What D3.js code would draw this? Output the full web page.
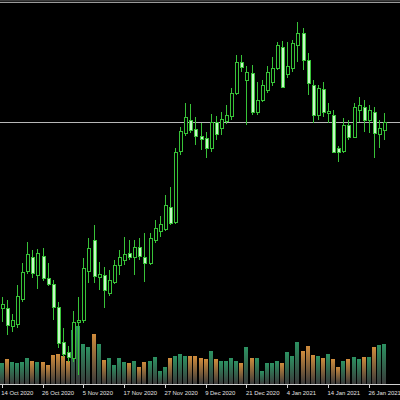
<!DOCTYPE html>
<html lang="en">
<head>
<meta charset="utf-8">
<script src="https://d3js.org/d3.v7.min.js"></script>
<style>
  body { margin: 0; background: #000; }
  svg { display: block; background: #000; }
  .tick-label { font: 5.9px "Liberation Sans", Arial, sans-serif; fill: #e0e0e0; }
</style>
</head>
<body>
<svg width="400" height="400"></svg>
<script>
// EURUSD daily bars, 14 Oct 2020 .. 29 Jan 2021
var dates = [
  "2020-10-14","2020-10-15","2020-10-16","2020-10-19","2020-10-20","2020-10-21","2020-10-22","2020-10-23",
  "2020-10-26","2020-10-27","2020-10-28","2020-10-29","2020-10-30","2020-11-02","2020-11-03","2020-11-04",
  "2020-11-05","2020-11-06","2020-11-09","2020-11-10","2020-11-11","2020-11-12","2020-11-13","2020-11-16",
  "2020-11-17","2020-11-18","2020-11-19","2020-11-20","2020-11-23","2020-11-24","2020-11-25","2020-11-26",
  "2020-11-27","2020-11-30","2020-12-01","2020-12-02","2020-12-03","2020-12-04","2020-12-07","2020-12-08",
  "2020-12-09","2020-12-10","2020-12-11","2020-12-14","2020-12-15","2020-12-16","2020-12-17","2020-12-18",
  "2020-12-21","2020-12-22","2020-12-23","2020-12-24","2020-12-28","2020-12-29","2020-12-30","2020-12-31",
  "2021-01-04","2021-01-05","2021-01-06","2021-01-07","2021-01-08","2021-01-11","2021-01-12","2021-01-13",
  "2021-01-14","2021-01-15","2021-01-18","2021-01-19","2021-01-20","2021-01-21","2021-01-22","2021-01-25",
  "2021-01-26","2021-01-27","2021-01-28","2021-01-29"
];

var open = [
  1.1764,1.1764,1.1728,1.1732,1.1782,1.1838,1.1866,1.1830,1.1868,1.1824,
  1.1812,1.1766,1.1696,1.1676,1.1664,1.1736,1.1740,1.1838,1.1900,1.1826,
  1.1830,1.1794,1.1816,1.1850,1.1860,1.1874,1.1866,1.1886,1.1866,1.1854,
  1.1900,1.1918,1.1922,1.1966,1.1936,1.2078,1.2114,1.2140,1.2122,1.2108,
  1.2104,1.2084,1.2136,1.2124,1.2138,1.2148,1.2194,1.2256,1.2220,1.2234,
  1.2156,1.2180,1.2200,1.2216,1.2244,1.2286,1.2232,1.2244,1.2290,1.2314,
  1.2260,1.2210,1.2150,1.2202,1.2154,1.2150,1.2084,1.2078,1.2130,1.2106,
  1.2160,1.2166,1.2140,1.2156,1.2112,1.2120
];
var high = [
  1.1786,1.1780,1.1752,1.1810,1.1854,1.1896,1.1880,1.1882,1.1884,1.1854,
  1.1820,1.1776,1.1724,1.1688,1.1758,1.1786,1.1864,1.1904,1.1930,1.1856,
  1.1846,1.1840,1.1860,1.1880,1.1906,1.1900,1.1900,1.1904,1.1914,1.1914,
  1.1940,1.1948,1.1990,1.2006,1.2084,1.2126,1.2174,1.2172,1.2146,1.2134,
  1.2116,1.2152,1.2148,1.2156,1.2170,1.2204,1.2270,1.2270,1.2248,1.2250,
  1.2216,1.2220,1.2248,1.2266,1.2296,1.2298,1.2296,1.2300,1.2336,1.2324,
  1.2274,1.2220,1.2210,1.2216,1.2174,1.2160,1.2088,1.2144,1.2140,1.2174,
  1.2186,1.2180,1.2170,1.2166,1.2140,1.2154
];
var low = [
  1.1736,1.1710,1.1716,1.1724,1.1776,1.1832,1.1824,1.1802,1.1818,1.1808,
  1.1740,1.1684,1.1666,1.1656,1.1656,1.1630,1.1734,1.1814,1.1814,1.1800,
  1.1764,1.1788,1.1812,1.1830,1.1850,1.1860,1.1830,1.1860,1.1816,1.1850,
  1.1894,1.1906,1.1918,1.1930,1.1932,1.2070,1.2108,1.2114,1.2090,1.2080,
  1.2064,1.2076,1.2100,1.2110,1.2132,1.2140,1.2190,1.2236,1.2130,1.2150,
  1.2150,1.2176,1.2194,1.2208,1.2240,1.2204,1.2224,1.2236,1.2256,1.2240,
  1.2190,1.2134,1.2140,1.2146,1.2134,1.2074,1.2056,1.2074,1.2100,1.2104,
  1.2136,1.2116,1.2114,1.2064,1.2084,1.2100
];
var close = [
  1.1772,1.1730,1.1740,1.1788,1.1836,1.1872,1.1834,1.1874,1.1824,1.1812,
  1.1766,1.1694,1.1672,1.1666,1.1736,1.1740,1.1844,1.1884,1.1828,1.1832,
  1.1800,1.1820,1.1850,1.1866,1.1872,1.1866,1.1886,1.1868,1.1854,1.1904,
  1.1924,1.1932,1.1970,1.1934,1.2076,1.2118,1.2146,1.2120,1.2108,1.2102,
  1.2084,1.2136,1.2112,1.2142,1.2150,1.2194,1.2256,1.2246,1.2236,1.2156,
  1.2180,1.2210,1.2236,1.2244,1.2290,1.2206,1.2248,1.2294,1.2314,1.2260,
  1.2214,1.2150,1.2204,1.2156,1.2158,1.2076,1.2076,1.2130,1.2106,1.2166,
  1.2170,1.2140,1.2160,1.2114,1.2124,1.2136
];
// tick volume, thousands
var volume = [
  85,99,88,85,87,105,92,88,88,76,
  116,120,112,93,216,232,160,149,200,160,
  96,104,76,104,88,85,92,69,89,92,
  109,53,69,103,112,119,112,112,112,103,
  99,132,99,91,91,103,93,83,147,105,
  105,52,83,83,92,85,127,113,169,132,
  152,116,112,105,119,100,69,92,99,109,
  99,109,109,149,156,160
];
var labelEvery = 8;

var svg = d3.select("svg");
var W = 400, H = 400, axisY = 384.5;

var x = d3.scalePoint().domain(dates).range([1.7, 384.2]);
var y = d3.scaleLinear().domain([1.1580, 1.2380]).range([400, 0]);
var yVol = d3.scaleLinear().domain([0, 200]).range([384, 334]);

var parse = d3.timeParse("%Y-%m-%d");
var fmt = d3.timeFormat("%-d %b %Y");

var bars = dates.map(function(d, i) {
  return { date: d, o: open[i], h: high[i], l: low[i], c: close[i], v: volume[i], up: close[i] >= open[i] };
});

var defs = svg.append("defs");
[["volUp", "#2c9262"], ["volDown", "#d08c3c"]].forEach(function(g) {
  var lg = defs.append("linearGradient").attr("id", g[0])
    .attr("x1", 0).attr("y1", 0).attr("x2", 0).attr("y2", 1);
  lg.append("stop").attr("offset", "0%").attr("stop-color", g[1]);
  lg.append("stop").attr("offset", "100%").attr("stop-color", "#3a3a3a");
});

// frame line at top
svg.append("rect").attr("x", 0).attr("y", 0).attr("width", W).attr("height", 1.5).attr("fill", "#3e3e3e");
svg.append("line").attr("x1", 0).attr("x2", W).attr("y1", 2.5).attr("y2", 2.5)
  .attr("stroke", "#9a9a9a").attr("stroke-width", 1);

// volumes
svg.append("g").attr("shape-rendering", "crispEdges")
  .selectAll("rect").data(bars).enter().append("rect")
  .attr("x", function(d) { return Math.round(x(d.date)) - 2; })
  .attr("width", 4)
  .attr("y", function(d) { return yVol(d.v); })
  .attr("height", function(d) { return 384 - yVol(d.v); })
  .attr("fill", function(d) { return d.up ? "url(#volUp)" : "url(#volDown)"; });

// bid line
var bid = close[close.length - 1];
svg.append("line").attr("x1", 0).attr("x2", W)
  .attr("y1", Math.round(y(bid)) + 0.5).attr("y2", Math.round(y(bid)) + 0.5)
  .attr("stroke", "#b8b8b8").attr("stroke-width", 1);

// candles
var green = "#38c238";
var candle = svg.append("g").selectAll("g").data(bars).enter().append("g");

candle.append("line")
  .attr("x1", function(d) { return Math.round(x(d.date)) + 0.5; })
  .attr("x2", function(d) { return Math.round(x(d.date)) + 0.5; })
  .attr("y1", function(d) { return y(d.h); })
  .attr("y2", function(d) { return y(d.l); })
  .attr("stroke", green).attr("stroke-width", 1);

candle.append("rect")
  .attr("x", function(d) { return Math.round(x(d.date)) - 0.5; })
  .attr("width", 3)
  .attr("y", function(d) { return Math.round(y(Math.max(d.o, d.c))) + 0.5; })
  .attr("height", function(d) { return Math.max(1, Math.round(Math.abs(y(d.o) - y(d.c)))); })
  .attr("fill", function(d) { return d.up ? "#000" : "#c6f8c6"; })
  .attr("stroke", green).attr("stroke-width", 1);

// time axis
var axis = svg.append("g").attr("shape-rendering", "crispEdges");
axis.append("rect").attr("x", 0).attr("y", 384).attr("width", W).attr("height", 16).attr("fill", "#000");
axis.append("line").attr("x1", 0).attr("x2", W).attr("y1", axisY).attr("y2", axisY)
  .attr("stroke", "#d0d0d0");

var ticks = dates.filter(function(d, i) { return i % labelEvery === 0; });
axis.selectAll("line.tk").data(ticks).enter().append("line").attr("class", "tk")
  .attr("x1", function(d) { return Math.round(x(d)) + 0.5; })
  .attr("x2", function(d) { return Math.round(x(d)) + 0.5; })
  .attr("y1", axisY).attr("y2", axisY + 3)
  .attr("stroke", "#d0d0d0");
axis.selectAll("text").data(ticks).enter().append("text")
  .attr("class", "tick-label")
  .attr("x", function(d) { return x(d) - 0.5; })
  .attr("y", 395)
  .text(function(d) { return fmt(parse(d)); });
</script>
</body>
</html>
